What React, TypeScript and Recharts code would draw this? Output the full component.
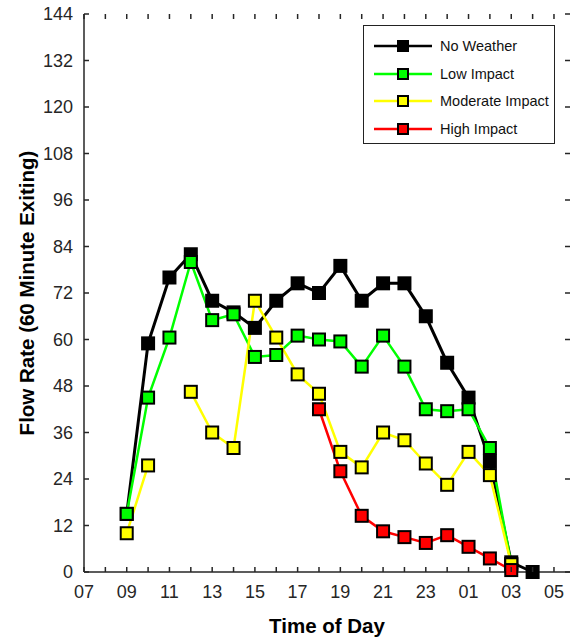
import { LineChart, Line, XAxis, YAxis } from 'recharts';

const hours = [9, 10, 11, 12, 13, 14, 15, 16, 17, 18, 19, 20, 21, 22, 23, 24, 25, 26, 27, 28];
const noWeather = [15, 59, 76, 82, 70, 67, 63, 70, 74.5, 72, 79, 70, 74.5, 74.5, 66, 54, 45, 28.5, 2.5, 0];
const lowImpact = [15, 45, 60.5, 80, 65, 66.5, 55.5, 56, 61, 60, 59.5, 53, 61, 53, 42, 41.5, 42, 32, 2, null];
const moderateImpact = [10, 27.5, null, 46.5, 36, 32, 70, 60.5, 51, 46, 31, 27, 36, 34, 28, 22.5, 31, 25, 2, null];
const highImpact = [null, null, null, null, null, null, null, null, null, 42, 26, 14.5, 10.5, 9, 7.5, 9.5, 6.5, 3.5, 0.5, null];

const xTicks = [7, 8, 9, 10, 11, 12, 13, 14, 15, 16, 17, 18, 19, 20, 21, 22, 23, 24, 25, 26, 27, 28, 29];
const yTicks = [0, 12, 24, 36, 48, 60, 72, 84, 96, 108, 120, 132, 144];

const series = [
  { key: 'noWeather', name: 'No Weather', color: '#000000', width: 3 },
  { key: 'lowImpact', name: 'Low Impact', color: '#00ff00', width: 2.5 },
  { key: 'moderateImpact', name: 'Moderate Impact', color: '#ffff00', width: 2.5 },
  { key: 'highImpact', name: 'High Impact', color: '#ff0000', width: 2.5 },
];

const data = hours.map((h, i) => ({
  hour: h,
  noWeather: noWeather[i],
  lowImpact: lowImpact[i],
  moderateImpact: moderateImpact[i],
  highImpact: highImpact[i],
}));

const W = 573;
const H = 641;
const M = { top: 14, right: 3, left: 0, bottom: 0 };
const Y_AXIS_W = 84;
const X_AXIS_H = 69;
const X_MARGIN = 13;
const Y_MARGIN = 11;
const TICK = 5;
const plotTop = M.top;
const plotBottom = H - M.bottom - X_AXIS_H;
const plotLeft = M.left + Y_AXIS_W;
const plotRight = W - M.right;

const axisColor = '#262626';
const fontFamily = '"Liberation Sans", Arial, sans-serif';

const hourLabel = (h: number) => (h % 2 === 1 ? String(h % 24).padStart(2, '0') : '');

// x tick: label below, inward marks on bottom and top frame
function XTick(props: any) {
  const { x, y, payload } = props;
  return (
    <g>
      <line x1={x} y1={plotBottom} x2={x} y2={plotBottom - TICK} stroke={axisColor} strokeWidth={1.5} />
      <line x1={x} y1={plotTop} x2={x} y2={plotTop + TICK} stroke={axisColor} strokeWidth={1.5} />
      <text x={x} y={y} dy="0.71em" textAnchor="middle" fontFamily={fontFamily} fontSize={18} fill="#262626">
        {hourLabel(payload.value)}
      </text>
    </g>
  );
}

// y tick: label left, inward marks on left and right frame
function YTick(props: any) {
  const { x, y, payload } = props;
  return (
    <g>
      <line x1={plotLeft} y1={y} x2={plotLeft + TICK} y2={y} stroke={axisColor} strokeWidth={1.5} />
      <line x1={plotRight} y1={y} x2={plotRight - TICK} y2={y} stroke={axisColor} strokeWidth={1.5} />
      <text x={x} y={y} dy="0.355em" textAnchor="end" fontFamily={fontFamily} fontSize={18} fill="#262626">
        {payload.value}
      </text>
    </g>
  );
}

function squareDot(color: string) {
  return (props: any) => {
    const { cx, cy, index } = props;
    if (cx == null || cy == null || props.value == null) return <g key={index} />;
    return (
      <rect key={index} x={cx - 6} y={cy - 6} width={12} height={12} fill={color} stroke="#000" strokeWidth={2} />
    );
  };
}

function LegendBox() {
  return (
    <div
      style={{
        position: 'absolute',
        left: 363,
        top: 25,
        width: 190,
        height: 117,
        border: '1px solid #222',
        background: '#fff',
        fontFamily,
        fontSize: 14.5,
        color: '#111',
      }}
    >
      {series.map((s, i) => (
        <div key={s.key} style={{ position: 'absolute', left: 10, top: 9 + i * 27.7, height: 22, display: 'flex', alignItems: 'center' }}>
          <svg width={60} height={22}>
            <line x1={0} y1={11} x2={58} y2={11} stroke={s.color} strokeWidth={2.5} />
            <rect x={24} y={6} width={10} height={10} fill={s.color} stroke="#000" strokeWidth={2} />
          </svg>
          <span style={{ marginLeft: 6 }}>{s.name}</span>
        </div>
      ))}
    </div>
  );
}

export default function App() {
  return (
    <div style={{ position: 'absolute', left: 0, top: 0, width: W, height: H, background: '#fff' }}>
      <LineChart width={W} height={H} data={data} margin={M}>
        <XAxis
          xAxisId="x"
          dataKey="hour"
          type="number"
          domain={[7, 29.75]}
          ticks={xTicks}
          interval={0}
          tickLine={false}
          tickSize={0}
          tickMargin={X_MARGIN}
          height={X_AXIS_H}
          axisLine={{ stroke: axisColor, strokeWidth: 1.5 }}
          tick={<XTick />}
          label={{
            value: 'Time of Day',
            position: 'insideBottom',
            offset: 8,
            style: { fontFamily, fontSize: 20.5, fontWeight: 'bold', fill: '#000' },
          }}
        />
        <XAxis
          xAxisId="xTop"
          orientation="top"
          type="number"
          domain={[7, 29.75]}
          mirror
          height={0}
          tick={false}
          tickLine={false}
          axisLine={{ stroke: axisColor, strokeWidth: 1.5 }}
        />
        <YAxis
          yAxisId="y"
          type="number"
          domain={[0, 144]}
          ticks={yTicks}
          interval={0}
          width={Y_AXIS_W}
          tickLine={false}
          tickSize={0}
          tickMargin={Y_MARGIN}
          axisLine={{ stroke: axisColor, strokeWidth: 1.5 }}
          tick={<YTick />}
          label={{
            value: 'Flow Rate (60 Minute Exiting)',
            angle: -90,
            position: 'insideLeft',
            offset: 27,
            style: { textAnchor: 'middle', fontFamily, fontSize: 20.5, fontWeight: 'bold', fill: '#000' },
          }}
        />
        <YAxis
          yAxisId="yRight"
          orientation="right"
          type="number"
          domain={[0, 144]}
          mirror
          width={0}
          tick={false}
          tickLine={false}
          axisLine={{ stroke: axisColor, strokeWidth: 1.5 }}
        />
        {series.map((s) => (
          <Line
            key={s.key}
            xAxisId="x"
            yAxisId="y"
            dataKey={s.key}
            name={s.name}
            type="linear"
            stroke={s.color}
            strokeWidth={s.width}
            connectNulls={false}
            dot={squareDot(s.color)}
            activeDot={false}
            isAnimationActive={false}
          />
        ))}
      </LineChart>
      <LegendBox />
    </div>
  );
}
